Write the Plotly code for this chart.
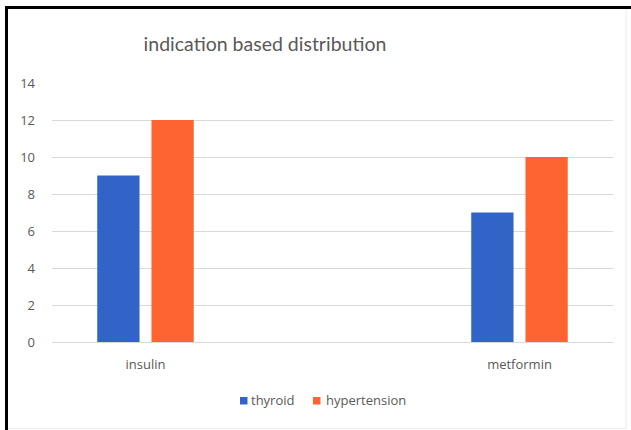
import plotly.graph_objects as go

# Drug categories (middle slot is an empty category in the source sheet)
categories = ["insulin", " ", "metformin"]
series_names = ["thyroid", "hypertension"]
thyroid = [9, None, 7]
hypertension = [12, None, 10]
colors = ["#3264c8", "#fe6432"]

W, H = 631, 430
M_L, M_R, M_T, M_B = 52, 18, 83, 88
PW, PH = W - M_L - M_R, H - M_T - M_B


def px_x(x):
    return (x - M_L) / PW


def px_y(y):
    return (H - M_B - y) / PH


fig = go.Figure()
for name, vals, col in zip(series_names, [thyroid, hypertension], colors):
    fig.add_trace(go.Bar(name=name, x=categories, y=vals,
                         marker=dict(color=col, line=dict(width=0))))

title_font = "Lato, 'Open Sans', sans-serif"
font = "'Open Sans', sans-serif"
txt_color = "#595959"

# Compact legend below the plot: small colour key followed by its label
legend_keys = [(240, 249), (313, 324)]
shapes = []
annotations = []
for (kx, tx), name, col in zip(legend_keys, series_names, colors):
    shapes.append(dict(type="rect", xref="paper", yref="paper",
                       x0=px_x(kx), x1=px_x(kx + 7.5),
                       y0=px_y(404.5), y1=px_y(397),
                       fillcolor=col, line=dict(width=0)))
    annotations.append(dict(text=name, xref="paper", yref="paper",
                            x=px_x(tx), y=px_y(400.5), xanchor="left",
                            yanchor="middle", showarrow=False,
                            font=dict(family=font, size=13, color=txt_color)))

shapes += [
    # dark frame on the left and top edges
    dict(type="line", xref="paper", yref="paper",
         x0=px_x(6.5), x1=px_x(6.5), y0=px_y(6), y1=px_y(H + 2),
         line=dict(color="black", width=3)),
    dict(type="line", xref="paper", yref="paper",
         x0=px_x(5), x1=px_x(W + 2), y0=px_y(7.5), y1=px_y(7.5),
         line=dict(color="black", width=3)),
    # faint edges on the right and bottom
    dict(type="line", xref="paper", yref="paper",
         x0=px_x(626), x1=px_x(626), y0=px_y(9), y1=px_y(429),
         line=dict(color="#ececec", width=1)),
    dict(type="line", xref="paper", yref="paper",
         x0=px_x(8), x1=px_x(626), y0=px_y(428.5), y1=px_y(428.5),
         line=dict(color="#ececec", width=1)),
]

fig.update_layout(
    width=W, height=H,
    margin=dict(l=M_L, r=M_R, t=M_T, b=M_B),
    paper_bgcolor="white", plot_bgcolor="white",
    barmode="group", bargap=0.42, bargroupgap=0.22,
    title=dict(text="indication based distribution", xref="container",
               x=265 / W, xanchor="center",
               y=1 - 44 / H, yanchor="middle",
               font=dict(family=title_font, size=19.5, color=txt_color)),
    font=dict(family=font, size=13, color=txt_color),
    showlegend=False,
    xaxis=dict(type="category", categoryorder="array", categoryarray=categories,
               showgrid=False, showline=True, linecolor="#d9d9d9", linewidth=1,
               ticks="", ticklabelstandoff=10,
               tickfont=dict(family=font, size=13, color=txt_color),
               range=[-0.5, 2.5]),
    yaxis=dict(range=[0, 14], dtick=2, showgrid=True, gridcolor="#d9d9d9",
               gridwidth=1, zeroline=False, showline=False, ticks="",
               ticklabelstandoff=16,
               tickfont=dict(family=font, size=13, color=txt_color)),
    shapes=shapes,
    annotations=annotations,
)

fig.write_html("out.html")
